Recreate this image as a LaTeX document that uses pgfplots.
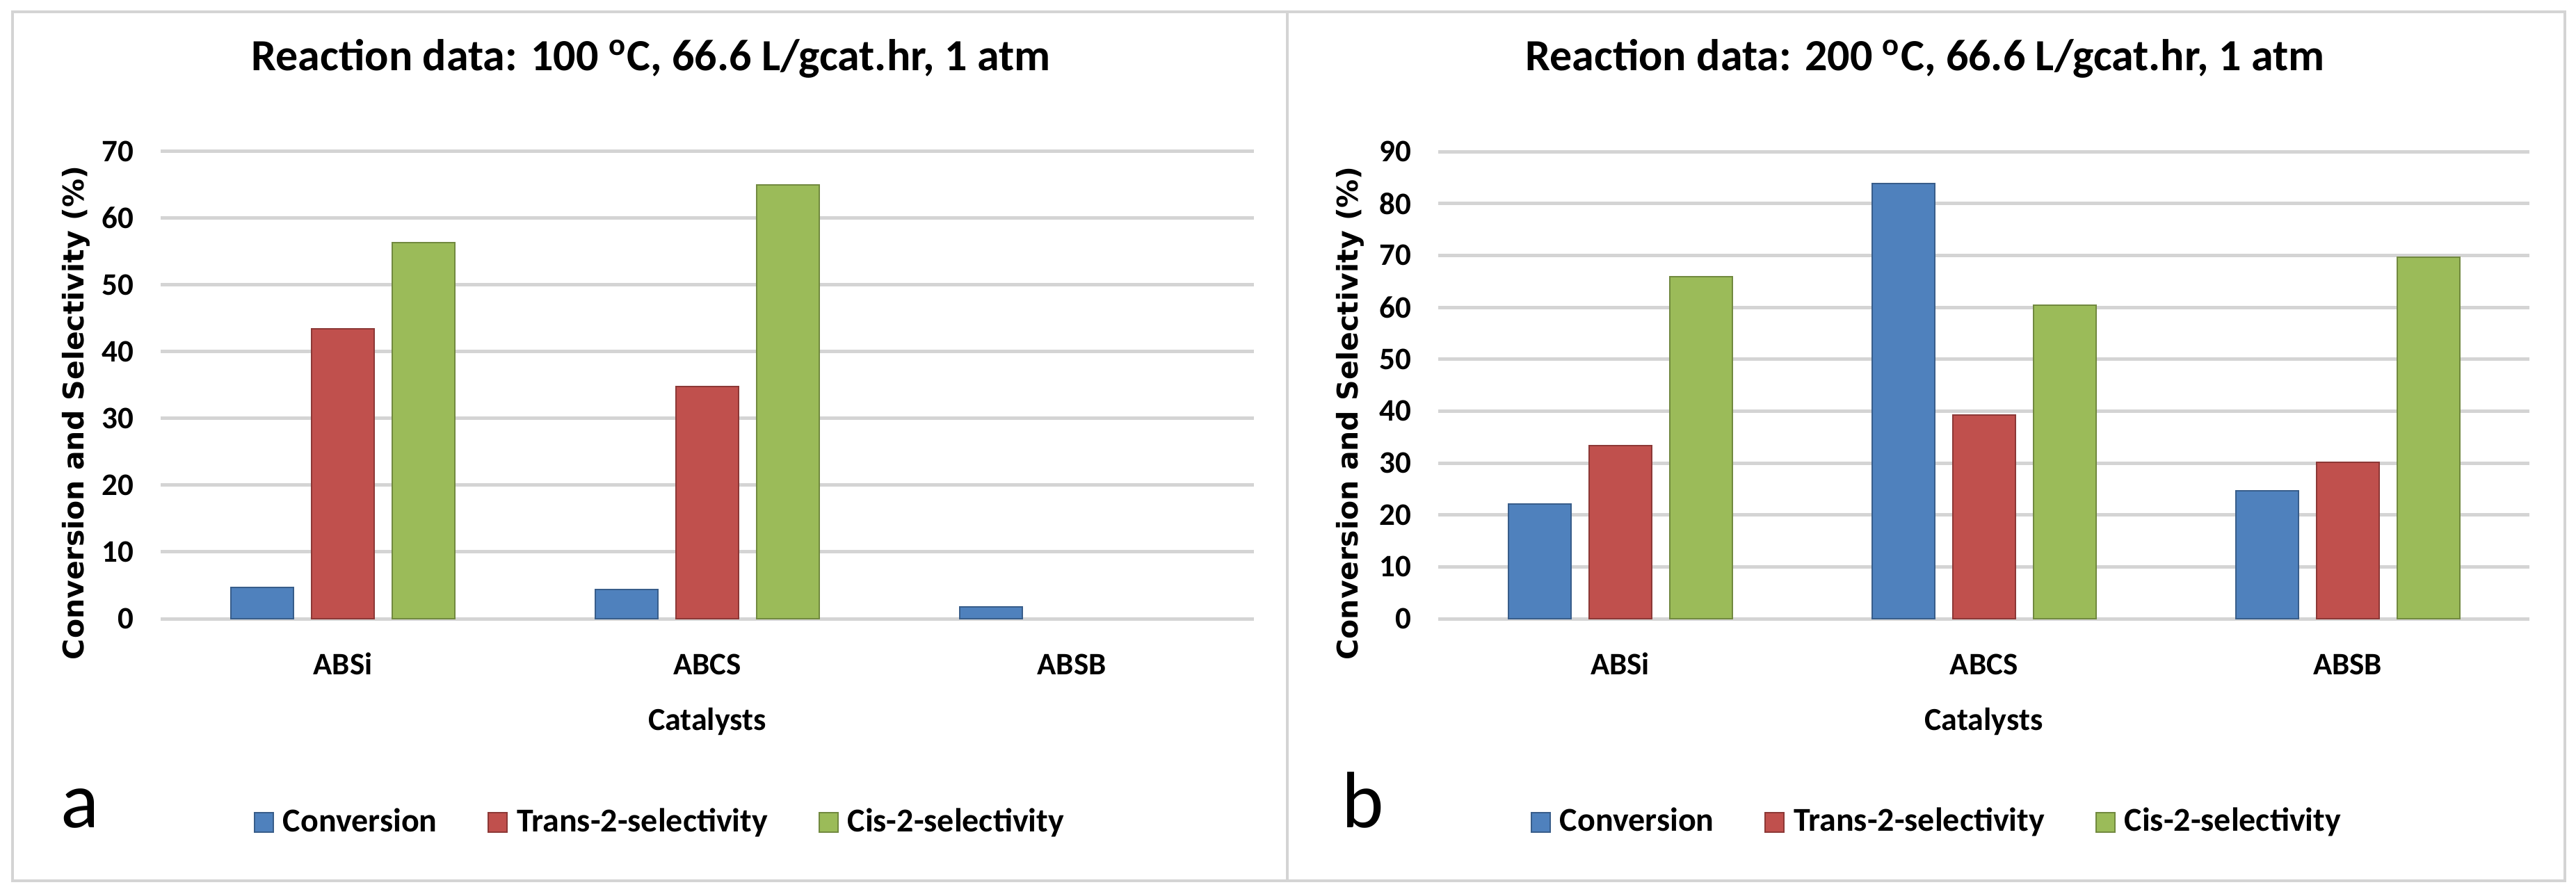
\documentclass[border=0pt]{standalone}
\usepackage{pgfplots}
\pgfplotsset{compat=1.18}
\usepackage{fontspec}
\setmainfont{Carlito}
\newfontfamily\labelfont{DejaVu Sans}

\definecolor{cblue}{HTML}{4F81BD}
\definecolor{cblueline}{HTML}{385D8A}
\definecolor{cred}{HTML}{C0504D}
\definecolor{credline}{HTML}{8C3836}
\definecolor{cgreen}{HTML}{9BBB59}
\definecolor{cgreenline}{HTML}{71893F}
\definecolor{gridgray}{HTML}{D4D4D4}
\definecolor{framegray}{HTML}{D4D4D4}

\pgfplotsset{
    panel/.style={
        scale only axis,
        ybar=5.2pt,
        bar width=18pt,
        xmin=-0.5, xmax=2.5,
        ymin=0,
        ytick distance=10,
        xtick={0,1,2},
        xticklabels={ABSi,ABCS,ABSB},
        ymajorgrids,
        grid style={gridgray, line width=1pt},
        axis line style={draw=none},
        major tick length=0pt,
        tick style={draw=none},
        /pgf/number format/assume math mode=true,
        yticklabel style={font=\bfseries\fontsize{9}{10}\selectfont,
            inner sep=0pt, anchor=east, xshift=-7.6pt},
        xticklabel style={font=\bfseries\fontsize{9}{10}\selectfont,
            inner sep=0pt, anchor=base, yshift=-16pt},
        xlabel={Catalysts},
        xlabel style={font=\bfseries\fontsize{9.2}{11}\selectfont, inner sep=0pt,
            at={(axis description cs:0.5,0)}, anchor=base, yshift=-32pt},
        ylabel={Conversion and Selectivity (\%)},
        ylabel style={font=\labelfont\bfseries\fontsize{8.2}{10}\selectfont,
            inner sep=0pt, anchor=center},
        title style={font=\bfseries\fontsize{12.8}{14}\selectfont,
            inner sep=0pt, anchor=base},
        legend image code/.code={
            \draw[#1, line width=0.4pt] (0pt,-2.8pt) rectangle (5.4pt,2.8pt);
        },
        legend columns=-1,
        legend style={draw=none, fill=none, inner sep=0pt, anchor=west,
            font=\bfseries\fontsize{9.6}{11}\selectfont,
            nodes={inner sep=0pt},
            /tikz/every odd column/.append style={column sep=2.6pt},
            /tikz/every even column/.append style={column sep=14.5pt}},
        legend cell align=left,
    },
}

\begin{document}
\begin{tikzpicture}
\useasboundingbox (0,0) rectangle (740.8pt,257pt);
\draw[framegray, line width=0.8pt] (3.6pt,3.6pt) rectangle (370.2pt,253.6pt);
\draw[framegray, line width=0.8pt] (370.2pt,3.6pt) rectangle (737.6pt,253.6pt);

% panel a: 100 C
\begin{axis}[
    panel,
    at={(46.2pt,79pt)}, anchor=south west,
    width=314.4pt, height=134.5pt,
    ymax=70,
    title={Reaction data: 100 \textsuperscript{o}C, 66.6 L/gcat.hr, 1 atm},
    title style={at={(axis description cs:0.4485,1)}, yshift=17.3pt},
    ylabel style={at={(axis description cs:-0.0776,0.44)}},
    legend style={at={(axis description cs:0.0846,-0.4358)}},
]
\addplot[fill=cblue, draw=cblueline, line width=0.4pt]
    coordinates {(0,4.7) (1,4.4) (2,1.8)};
\addplot[fill=cred, draw=credline, line width=0.4pt]
    coordinates {(0,43.4) (1,34.8)};
\addplot[fill=cgreen, draw=cgreenline, line width=0.4pt]
    coordinates {(0,56.3) (1,65.0)};
\legend{Conversion, Trans-2-selectivity, Cis-2-selectivity}
\end{axis}

% panel b: 200 C
\begin{axis}[
    panel,
    at={(413.6pt,79pt)}, anchor=south west,
    width=313.8pt, height=134.4pt,
    ymax=90,
    title={Reaction data: 200 \textsuperscript{o}C, 66.6 L/gcat.hr, 1 atm},
    title style={at={(axis description cs:0.446,1)}, yshift=17.3pt},
    ylabel style={at={(axis description cs:-0.081,0.44)}},
    legend style={at={(axis description cs:0.0841,-0.4358)}},
]
\addplot[fill=cblue, draw=cblueline, line width=0.4pt]
    coordinates {(0,22.1) (1,83.9) (2,24.7)};
\addplot[fill=cred, draw=credline, line width=0.4pt]
    coordinates {(0,33.3) (1,39.3) (2,30.2)};
\addplot[fill=cgreen, draw=cgreenline, line width=0.4pt]
    coordinates {(0,65.9) (1,60.4) (2,69.6)};
\legend{Conversion, Trans-2-selectivity, Cis-2-selectivity}
\end{axis}

\node[anchor=base west, inner sep=0pt, font=\fontsize{23}{26}\selectfont]
    at (17.4pt,19pt) {a};
\node[anchor=base west, inner sep=0pt, font=\fontsize{23}{26}\selectfont]
    at (385.6pt,19pt) {b};
\end{tikzpicture}
\end{document}
